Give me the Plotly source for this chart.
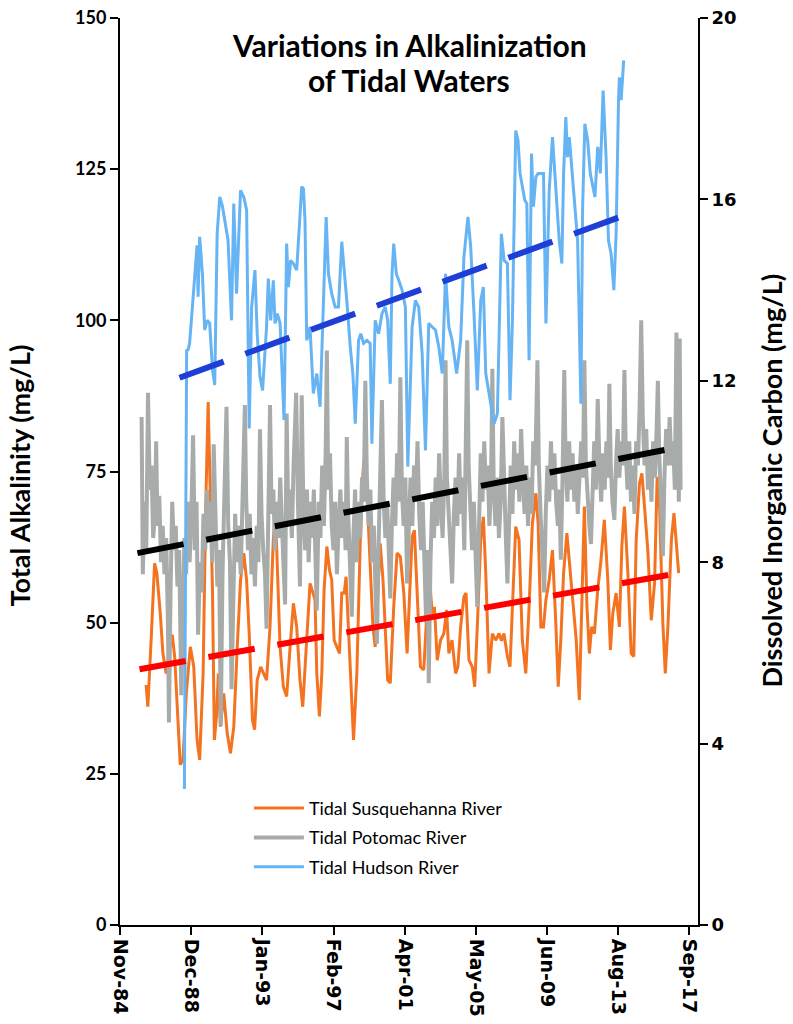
import pandas as pd
import plotly.graph_objects as go

# ---------------- data (decimal years, mg/L) ----------------
susq_year = [1986.34, 1986.44, 1986.63, 1986.83, 1986.96, 1987.16, 1987.31, 1987.50, 1987.70, 1987.85,
             1987.99, 1988.18, 1988.31, 1988.47, 1988.66, 1988.89, 1989.09, 1989.28, 1989.43, 1989.63,
             1989.78, 1989.92, 1990.05, 1990.17, 1990.28, 1990.40, 1990.51, 1990.63, 1990.82, 1991.02,
             1991.21, 1991.40, 1991.60, 1991.79, 1991.98, 1992.14, 1992.29, 1992.48, 1992.60, 1992.75,
             1992.95, 1993.14, 1993.29, 1993.49, 1993.68, 1993.80, 1993.91, 1994.07, 1994.26, 1994.45,
             1994.65, 1994.84, 1995.03, 1995.22, 1995.38, 1995.57, 1995.80, 1996.09, 1996.19, 1996.34,
             1996.48, 1996.61, 1996.77, 1996.92, 1997.05, 1997.19, 1997.34, 1997.50, 1997.63, 1997.77,
             1997.88, 1998.02, 1998.16, 1998.31, 1998.50, 1998.70, 1998.85, 1998.99, 1999.12, 1999.27,
             1999.43, 1999.56, 1999.70, 1999.85, 2000.01, 2000.14, 2000.28, 2000.43, 2000.63, 2000.82,
             2001.01, 2001.21, 2001.40, 2001.55, 2001.69, 2001.82, 2001.98, 2002.17, 2002.36, 2002.52,
             2002.67, 2002.85, 2002.98, 2003.14, 2003.33, 2003.52, 2003.68, 2003.81, 2003.99, 2004.20,
             2004.33, 2004.49, 2004.68, 2004.80, 2004.97, 2005.16, 2005.30, 2005.45, 2005.65, 2005.80,
             2005.94, 2006.13, 2006.32, 2006.51, 2006.71, 2006.85, 2006.99, 2007.19, 2007.34, 2007.48,
             2007.67, 2007.86, 2008.05, 2008.25, 2008.44, 2008.63, 2008.83, 2008.96, 2009.12, 2009.27,
             2009.41, 2009.60, 2009.79, 2009.99, 2010.12, 2010.27, 2010.43, 2010.62, 2010.82, 2011.01,
             2011.16, 2011.34, 2011.47, 2011.63, 2011.78, 2011.92, 2012.05, 2012.21, 2012.40, 2012.59,
             2012.78, 2012.98, 2013.13, 2013.27, 2013.46, 2013.65, 2013.79, 2013.94, 2014.14, 2014.33,
             2014.48, 2014.62, 2014.81, 2014.95, 2015.10, 2015.29, 2015.49, 2015.68, 2015.83, 2015.97,
             2016.16, 2016.30, 2016.45, 2016.65, 2016.80, 2016.94, 2017.07]
susq_alk = [39.7, 36.1, 47.1, 59.8, 58.2, 51.5, 44.9, 41.6, 46.0, 48.0,
            44.4, 32.3, 26.5, 27.3, 38.3, 46.0, 42.7, 30.6, 27.3, 41.6,
            69.2, 86.5, 72.0, 55.4, 30.6, 34.5, 41.6, 32.8, 38.3, 31.7,
            28.4, 32.8, 46.0, 57.0, 61.5, 57.0, 48.2, 33.9, 32.3, 40.5,
            42.7, 41.6, 40.5, 49.3, 63.6, 68.6, 59.3, 46.0, 39.4, 37.8,
            46.0, 53.2, 49.3, 40.5, 36.1, 46.0, 56.5, 53.8, 41.6, 34.5,
            41.6, 55.4, 62.6, 58.7, 57.1, 47.1, 46.0, 44.9, 54.9, 54.9,
            57.6, 49.3, 40.5, 30.6, 41.6, 63.7, 74.7, 79.1, 69.2, 58.2,
            49.3, 46.0, 55.4, 63.1, 57.1, 49.9, 40.5, 40.0, 52.7, 61.5,
            60.9, 54.9, 44.9, 54.9, 64.2, 65.3, 53.8, 42.7, 42.2, 50.4,
            58.2, 51.5, 52.6, 43.8, 47.1, 48.2, 52.1, 44.9, 47.1, 41.6,
            42.7, 49.3, 54.3, 54.9, 43.8, 42.7, 39.4, 49.3, 63.7, 67.5,
            58.2, 41.6, 48.2, 47.1, 48.2, 47.0, 48.2, 44.4, 42.7, 52.6,
            65.9, 63.7, 47.1, 41.6, 52.6, 66.4, 71.4, 66.4, 49.3, 49.3,
            53.8, 57.1, 62.0, 49.3, 39.4, 47.1, 58.2, 64.8, 58.2, 52.6,
            47.1, 37.2, 52.6, 69.2, 52.6, 44.9, 49.3, 48.2, 55.4, 60.4,
            67.0, 57.1, 45.5, 51.5, 54.9, 49.3, 62.6, 69.2, 58.2, 44.9,
            44.4, 63.7, 73.0, 74.7, 69.2, 62.0, 50.4, 56.5, 74.1, 69.2,
            49.9, 41.6, 49.3, 63.7, 68.1, 63.1, 58.2]

poto_year = [1986.08, 1986.15, 1986.25, 1986.35, 1986.45, 1986.55, 1986.65, 1986.75, 1986.85, 1986.92,
             1987.00, 1987.10, 1987.20, 1987.30, 1987.40, 1987.50, 1987.60, 1987.66, 1987.75, 1987.85,
             1987.95, 1988.05, 1988.15, 1988.25, 1988.37, 1988.45, 1988.55, 1988.65, 1988.75, 1988.85,
             1988.95, 1989.05, 1989.15, 1989.25, 1989.34, 1989.45, 1989.55, 1989.65, 1989.75, 1989.85,
             1989.95, 1990.05, 1990.15, 1990.24, 1990.35, 1990.45, 1990.55, 1990.65, 1990.75, 1990.85,
             1990.98, 1991.08, 1991.18, 1991.27, 1991.38, 1991.48, 1991.58, 1991.70, 1991.80, 1991.90,
             1992.04, 1992.12, 1992.22, 1992.32, 1992.42, 1992.52, 1992.62, 1992.72, 1992.82, 1992.91,
             1993.00, 1993.10, 1993.20, 1993.29, 1993.40, 1993.49, 1993.58, 1993.68, 1993.78, 1993.88,
             1993.98, 1994.08, 1994.18, 1994.28, 1994.36, 1994.45, 1994.55, 1994.65, 1994.75, 1994.85,
             1995.00, 1995.10, 1995.22, 1995.32, 1995.42, 1995.52, 1995.62, 1995.72, 1995.82, 1995.92,
             1996.02, 1996.12, 1996.19, 1996.30, 1996.40, 1996.50, 1996.60, 1996.70, 1996.77, 1996.85,
             1996.95, 1997.05, 1997.15, 1997.25, 1997.35, 1997.45, 1997.55, 1997.65, 1997.75, 1997.85,
             1997.92, 1998.00, 1998.10, 1998.21, 1998.30, 1998.40, 1998.50, 1998.60, 1998.70, 1998.80,
             1998.90, 1998.99, 1999.08, 1999.18, 1999.28, 1999.38, 1999.48, 1999.58, 1999.66, 1999.75,
             1999.85, 1999.95, 2000.05, 2000.15, 2000.25, 2000.35, 2000.43, 2000.52, 2000.62, 2000.72,
             2000.82, 2000.92, 2001.01, 2001.10, 2001.20, 2001.30, 2001.40, 2001.50, 2001.60, 2001.70,
             2001.80, 2001.90, 2002.00, 2002.10, 2002.20, 2002.30, 2002.40, 2002.50, 2002.58, 2002.65,
             2002.75, 2002.85, 2002.95, 2003.05, 2003.15, 2003.25, 2003.35, 2003.45, 2003.55, 2003.62,
             2003.70, 2003.80, 2003.90, 2004.00, 2004.10, 2004.20, 2004.30, 2004.40, 2004.50, 2004.60,
             2004.70, 2004.80, 2004.87, 2004.95, 2005.05, 2005.15, 2005.25, 2005.35, 2005.45, 2005.55,
             2005.65, 2005.75, 2005.85, 2005.95, 2006.05, 2006.15, 2006.25, 2006.32, 2006.40, 2006.50,
             2006.60, 2006.70, 2006.80, 2006.90, 2007.00, 2007.10, 2007.19, 2007.28, 2007.38, 2007.48,
             2007.58, 2007.68, 2007.78, 2007.88, 2007.98, 2008.08, 2008.18, 2008.28, 2008.38, 2008.48,
             2008.58, 2008.68, 2008.80, 2008.92, 2009.00, 2009.10, 2009.20, 2009.31, 2009.40, 2009.50,
             2009.60, 2009.70, 2009.80, 2009.90, 2010.00, 2010.10, 2010.18, 2010.27, 2010.37, 2010.47,
             2010.55, 2010.65, 2010.75, 2010.85, 2010.95, 2011.05, 2011.15, 2011.25, 2011.35, 2011.45,
             2011.55, 2011.63, 2011.72, 2011.82, 2011.92, 2012.01, 2012.10, 2012.20, 2012.30, 2012.40,
             2012.50, 2012.60, 2012.70, 2012.80, 2012.90, 2013.00, 2013.07, 2013.15, 2013.25, 2013.36,
             2013.45, 2013.55, 2013.65, 2013.75, 2013.85, 2013.94, 2014.02, 2014.12, 2014.22, 2014.32,
             2014.42, 2014.52, 2014.62, 2014.72, 2014.82, 2014.91, 2015.00, 2015.10, 2015.20, 2015.30,
             2015.40, 2015.50, 2015.60, 2015.70, 2015.80, 2015.87, 2015.95, 2016.05, 2016.16, 2016.25,
             2016.35, 2016.45, 2016.55, 2016.65, 2016.75, 2016.85, 2016.94, 2017.02, 2017.08, 2017.13,
             2017.18]
poto_alk = [84, 58, 70, 62, 88, 72, 76, 64, 68, 80,
            66, 71, 60, 66, 58, 64, 50, 33.5, 55, 70,
            62, 66, 56, 62, 38, 52, 64, 58, 70, 60,
            68, 81, 62, 70, 48, 60, 55, 68, 62, 72,
            64, 70, 60, 79.5, 64, 56, 62, 33, 58, 70,
            85.7, 66, 60, 39, 55, 68, 60, 66, 58, 72,
            86, 70, 62, 68, 58, 64, 56, 66, 60, 82,
            68, 62, 58, 49, 66, 86, 68, 72, 62, 70,
            64, 74, 66, 60, 53, 84.6, 66, 72, 64, 76,
            88, 70, 56, 87.6, 68, 62, 72, 60, 70, 64,
            72, 60, 52, 70, 64, 76, 66, 78, 95, 72,
            78, 66, 62, 70, 58, 66, 72, 64, 70, 62,
            80.7, 68, 60, 51, 64, 72, 60, 70, 64, 74,
            70, 90, 74, 66, 72, 60, 66, 54, 46.5, 62,
            72, 86.8, 70, 64, 70, 60, 54, 66, 74, 66,
            78, 70, 90.6, 72, 66, 74, 56.5, 66, 74, 66,
            76, 70, 80, 68, 62, 70, 56, 50, 62, 40,
            60, 70, 64, 74, 66, 78, 70, 64, 74, 93.4,
            74, 68, 62, 56.5, 68, 74, 66, 78, 68, 74,
            62, 80, 96.7, 76, 70, 62, 70, 58, 52.6, 66,
            78, 70, 80, 72, 76, 66, 74, 92, 72, 66,
            74, 64, 70, 84, 72, 64, 56.5, 66, 76, 68,
            80, 72, 78, 70, 82, 74, 68, 76, 66, 74,
            68, 80, 76, 93.4, 76, 68, 62, 55, 68, 76,
            70, 80, 72, 78, 70, 66, 72, 60.4, 74, 91.8,
            76, 70, 80, 72, 78, 70, 76, 68, 74, 80,
            74, 93.4, 76, 70, 66, 63, 74, 80, 72, 87,
            76, 70, 78, 72, 80, 74, 89.5, 76, 70, 67,
            76, 82, 74, 80, 76, 91.8, 78, 72, 80, 70,
            76, 68, 80, 76, 86, 100, 84, 76, 82, 72,
            78, 70, 80, 74, 82, 90, 78, 70, 61, 74,
            82, 76, 84, 76, 80, 72, 98, 84, 70, 97,
            72]

huds_year = [1988.55, 1988.68, 1988.76, 1988.85, 1989.01, 1989.14, 1989.28, 1989.34, 1989.43, 1989.59,
             1989.72, 1989.86, 1990.01, 1990.17, 1990.30, 1990.44, 1990.59, 1990.75, 1990.94, 1991.07,
             1991.27, 1991.40, 1991.56, 1991.65, 1991.79, 1991.98, 1992.14, 1992.29, 1992.43, 1992.62,
             1992.75, 1992.91, 1993.06, 1993.29, 1993.39, 1993.53, 1993.68, 1993.78, 1993.91, 1994.07,
             1994.30, 1994.45, 1994.55, 1994.68, 1994.84, 1995.03, 1995.32, 1995.42, 1995.51, 1995.61,
             1995.80, 1995.99, 1996.19, 1996.38, 1996.57, 1996.73, 1996.86, 1997.05, 1997.25, 1997.44,
             1997.63, 1997.77, 1997.92, 1998.12, 1998.27, 1998.41, 1998.60, 1998.73, 1998.89, 1999.08,
             1999.27, 1999.37, 1999.56, 1999.76, 1999.95, 2000.14, 2000.28, 2000.43, 2000.53, 2000.63,
             2000.78, 2000.92, 2001.11, 2001.30, 2001.44, 2001.69, 2001.88, 2002.07, 2002.27, 2002.46,
             2002.65, 2002.85, 2003.04, 2003.23, 2003.43, 2003.62, 2003.81, 2004.00, 2004.26, 2004.49,
             2004.68, 2004.91, 2005.07, 2005.26, 2005.45, 2005.65, 2005.80, 2005.94, 2006.13, 2006.42,
             2006.61, 2006.84, 2007.00, 2007.19, 2007.34, 2007.48, 2007.67, 2007.80, 2007.92, 2008.07,
             2008.19, 2008.31, 2008.44, 2008.58, 2008.69, 2008.83, 2008.96, 2009.27, 2009.41, 2009.60,
             2009.79, 2009.99, 2010.18, 2010.33, 2010.43, 2010.56, 2010.66, 2010.76, 2010.89, 2011.05,
             2011.24, 2011.43, 2011.53, 2011.66, 2011.82, 2011.97, 2012.13, 2012.24, 2012.40, 2012.55,
             2012.71, 2012.88, 2013.02, 2013.17, 2013.33, 2013.46, 2013.60, 2013.65, 2013.75, 2013.90]
huds_alk = [22.5, 95.0, 95.1, 96.2, 102.2, 106.6, 112.4, 103.9, 113.8, 107.7,
            98.4, 100.0, 99.5, 91.8, 89.3, 114.3, 120.4, 118.8, 115.4, 113.2,
            100.0, 119.3, 104.4, 111.0, 121.5, 120.4, 118.2, 82.1, 102.2, 108.3,
            97.8, 90.7, 88.4, 98.9, 106.9, 100.0, 106.6, 99.5, 101.1, 99.5,
            83.5, 112.7, 105.5, 109.9, 109.4, 108.3, 122.1, 121.8, 116.5, 96.7,
            98.9, 87.9, 91.2, 85.7, 103.3, 117.1, 107.7, 104.4, 102.2, 102.2,
            113.0, 108.8, 103.3, 95.6, 91.2, 82.9, 96.7, 97.8, 96.2, 96.7,
            96.2, 79.6, 100.0, 97.8, 101.1, 102.2, 100.0, 89.5, 107.7, 112.7,
            107.7, 106.6, 105.0, 102.2, 75.8, 98.9, 103.3, 102.2, 94.5, 78.5,
            99.5, 98.9, 98.4, 95.6, 91.2, 107.7, 98.9, 96.7, 91.2, 96.7,
            110.5, 117.1, 112.1, 101.1, 88.4, 103.3, 105.5, 91.2, 87.9, 82.9,
            84.6, 114.3, 109.9, 109.4, 86.8, 100.0, 131.4, 129.8, 124.3, 121.5,
            119.9, 119.3, 93.4, 127.6, 118.8, 123.7, 124.3, 124.3, 99.5, 121.5,
            130.3, 121.5, 113.2, 109.4, 124.3, 133.6, 127.0, 130.3, 125.4, 118.8,
            113.2, 86.2, 118.8, 132.5, 129.8, 124.3, 122.1, 120.4, 128.7, 124.3,
            138.0, 127.0, 113.2, 111.0, 105.0, 114.3, 136.4, 140.2, 136.4, 143.0]

# linear trends (start / end)
trend_year = {"susq": [1985.96, 2017.11], "poto": [1985.84, 2017.03], "huds": [1988.27, 2013.98]}
trend_alk = {"susq": [42.3, 58.2], "poto": [61.5, 79.0], "huds": [90.5, 117.4]}

series_names = ["Tidal Susquehanna River", "Tidal Potomac River", "Tidal Hudson River"]
tick_dates = ["1984-11-01", "1988-12-10", "1993-01-18", "1997-02-26", "2001-04-06",
              "2005-05-15", "2009-06-23", "2013-08-01", "2017-09-09"]
tick_labels = ["Nov-84", "Dec-88", "Jan-93", "Feb-97", "Apr-01", "May-05", "Jun-09", "Aug-13", "Sep-17"]
alk_ticks = [0, 25, 50, 75, 100, 125, 150]
dic_ticks = [0, 4, 8, 12, 16, 20]


def dec2date(years):
    out = []
    for v in years:
        yr = int(v)
        start = pd.Timestamp(yr, 1, 1)
        end = pd.Timestamp(yr + 1, 1, 1)
        out.append(start + (end - start) * (v - yr))
    return out


fig = go.Figure()
colors = ["#F37321", "#A7ACAB", "#66B4F4"]
widths = [3, 4, 3]
data = [(susq_year, susq_alk), (poto_year, poto_alk), (huds_year, huds_alk)]
for i, (yrs, vals) in enumerate(data):
    fig.add_trace(go.Scatter(x=dec2date(yrs), y=vals, mode="lines", name=series_names[i],
                             line=dict(color=colors[i], width=widths[i]),
                             legendgroup=f"g{i}"))

tcolors = {"susq": "#FF0000", "poto": "#000000", "huds": "#1E3FD6"}
for key in ["susq", "poto", "huds"]:
    fig.add_trace(go.Scatter(x=dec2date(trend_year[key]), y=trend_alk[key], mode="lines",
                             line=dict(color=tcolors[key], width=6, dash="47px,23px"),
                             showlegend=False, hoverinfo="skip"))

# empty trace to hold the secondary axis
fig.add_trace(go.Scatter(x=[], y=[], yaxis="y2", showlegend=False, hoverinfo="skip"))

axis_common = dict(showline=True, linewidth=2, linecolor="black", ticks="outside", ticklen=8,
                   tickwidth=2, tickcolor="black", showgrid=False, zeroline=False, automargin=False)

fig.update_layout(
    width=793, height=1024,
    margin=dict(l=120, r=95, t=18, b=99),
    paper_bgcolor="white", plot_bgcolor="white",
    xaxis=dict(type="date", range=["1984-11-01", "2018-03-10"], tickvals=tick_dates,
               ticktext=tick_labels, tickangle=90,
               tickfont=dict(family="DejaVu Sans", size=19, color="black", weight="bold"),
               **axis_common),
    yaxis=dict(range=[0, 150], tickvals=alk_ticks,
               tickfont=dict(family="Lato", size=18, color="black", weight="bold"),
               **axis_common),
    yaxis2=dict(range=[0, 20], tickvals=dic_ticks, overlaying="y", side="right",
                tickfont=dict(family="DejaVu Sans", size=18, color="black", weight="bold"),
                **axis_common),
    legend=dict(x=0.223, y=0.149, xanchor="left", yanchor="top", bgcolor="rgba(0,0,0,0)",
                font=dict(family="Lato", size=18, color="black"), traceorder="grouped",
                tracegroupgap=3, itemwidth=50),
    annotations=[
        dict(text="<b>Variations in Alkalinization</b>", xref="paper", yref="paper",
             x=0.5, y=0.970, xanchor="center", yanchor="middle", showarrow=False,
             font=dict(family="Lato", size=30, color="black")),
        dict(text="<b>of Tidal Waters</b>", xref="paper", yref="paper",
             x=0.5, y=0.932, xanchor="center", yanchor="middle", showarrow=False,
             font=dict(family="Lato", size=30, color="black")),
        dict(text="<b>Total Alkalinity (mg/L)</b>", xref="paper", yref="paper", x=-0.174, y=0.496,
             xanchor="center", yanchor="middle", textangle=-90, showarrow=False,
             font=dict(family="Lato", size=27, color="black")),
        dict(text="<b>Dissolved Inorganic Carbon (mg/L)</b>", xref="paper", yref="paper", x=1.128, y=0.49,
             xanchor="center", yanchor="middle", textangle=-90, showarrow=False,
             font=dict(family="Lato", size=27, color="black")),
    ],
)

fig.write_html("out.html", config={"displayModeBar": False},
               post_script="document.body.style.margin='0';document.body.style.overflow='hidden';")
